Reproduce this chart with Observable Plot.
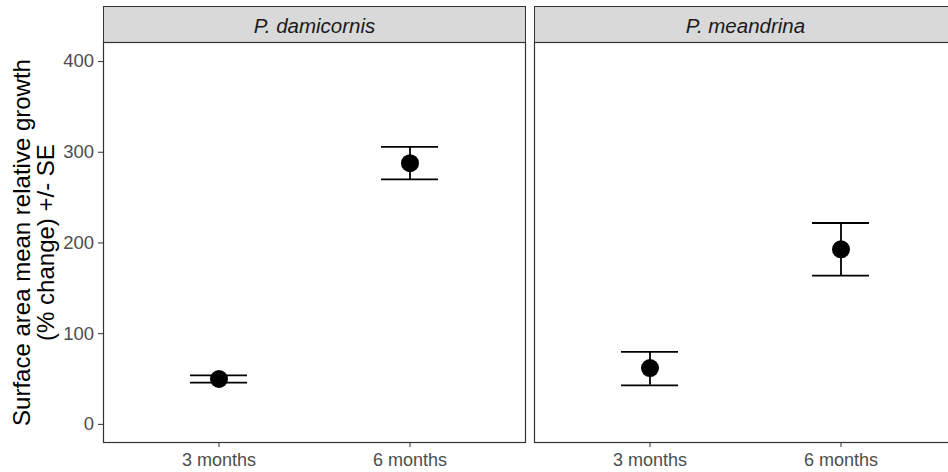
<!DOCTYPE html>
<html>
<head>
<meta charset="utf-8">
<script src="https://cdn.jsdelivr.net/npm/d3@7"></script>
<script src="https://cdn.jsdelivr.net/npm/@observablehq/plot@0.6"></script>
<style>
  html, body { margin: 0; padding: 0; background: #fff; }
  #chart { width: 948px; height: 472px; overflow: hidden; }
  #chart svg { font-family: "Liberation Sans", Arial, sans-serif; max-width: none !important; }
</style>
</head>
<body>
<div id="chart"></div>
<script>
// Facet (species) order, time categories
const speciesOrder = ["P. damicornis", "P. meandrina"];
const timeOrder = ["3 months", "6 months"];

// Observations
const species = ["P. damicornis", "P. damicornis", "P. meandrina", "P. meandrina"];
const time    = ["3 months", "6 months", "3 months", "6 months"];
const meanGrowth = [50, 288, 62, 193];
const lowerSE    = [46, 270, 43, 164];
const upperSE    = [54, 306, 80, 222];

// Axis ticks
const yTicks = [0, 100, 200, 300, 400];
const yTitle = "Surface area mean relative growth\n(% change) +/- SE";

const data = species.map((s, i) => ({
  species: s, time: time[i], mean: meanGrowth[i], lower: lowerSE[i], upper: upperSE[i]
}));

const plot = Plot.plot({
  width: 956,
  height: 472,
  marginLeft: 103,
  marginRight: 0,
  marginTop: 42,
  marginBottom: 30,
  style: { fontFamily: "'Liberation Sans', Arial, sans-serif", background: "#fff", maxWidth: "none" },
  fx: { domain: speciesOrder, paddingInner: 0.0216, paddingOuter: 0, axis: null, label: null },
  x: { type: "band", domain: timeOrder, paddingInner: 0.703, paddingOuter: 0.4505, label: null },
  y: { domain: [-20, 421], label: null },
  marks: [
    // strip backgrounds
    Plot.frame({ fill: "#d9d9d9", stroke: "#333", strokeWidth: 1, insetTop: -36, insetBottom: 400 }),
    // panel border
    Plot.frame({ stroke: "#333", strokeWidth: 1.2 }),
    // error bars
    Plot.ruleX(data, { fx: "species", x: "time", y1: "lower", y2: "upper", stroke: "black", strokeWidth: 1.8 }),
    Plot.tickY(data, { fx: "species", x: "time", y: "lower", stroke: "black", strokeWidth: 1.8 }),
    Plot.tickY(data, { fx: "species", x: "time", y: "upper", stroke: "black", strokeWidth: 1.8 }),
    // points
    Plot.dot(data, { fx: "species", x: "time", y: "mean", r: 9, fill: "black", stroke: "none" }),
    // axes
    Plot.axisX({ tickSize: 5, tickPadding: 5.5, fontSize: 18, stroke: "#333", fill: "#4d4d4d", label: null }),
    Plot.axisY({ ticks: yTicks, tickSize: 5, tickPadding: 4.5, fontSize: 18.5, stroke: "#333", fill: "#4d4d4d", label: null }),
    Plot.axisY({ ticks: [], label: yTitle, labelAnchor: "center", labelArrow: "none", labelOffset: 91, fontSize: 24, fill: "black" }),
    // strip labels
    Plot.text(speciesOrder, { fx: d => d, text: d => d, frameAnchor: "top", lineAnchor: "middle", dy: -16, fontStyle: "italic", fontSize: 20.5, fill: "#1a1a1a" })
  ]
});

document.getElementById("chart").appendChild(plot);
</script>
</body>
</html>
